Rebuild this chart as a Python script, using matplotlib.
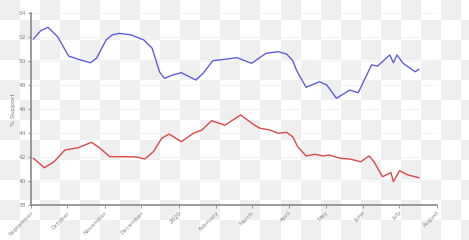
import matplotlib
matplotlib.use("Agg")
import matplotlib.pyplot as plt
import numpy as np
import pandas as pd

# poll averages
blue_dates = ["2019-09-03", "2019-09-09", "2019-09-15", "2019-09-23", "2019-10-02",
              "2019-10-10", "2019-10-20", "2019-10-25", "2019-11-02", "2019-11-07",
              "2019-11-13", "2019-11-23", "2019-12-03", "2019-12-10", "2019-12-16",
              "2019-12-20", "2019-12-27", "2020-01-03", "2020-01-15", "2020-01-21",
              "2020-01-29", "2020-02-08", "2020-02-18", "2020-03-01", "2020-03-13",
              "2020-03-23", "2020-03-30", "2020-04-04", "2020-04-07", "2020-04-15",
              "2020-04-26", "2020-05-02", "2020-05-10", "2020-05-21", "2020-05-28",
              "2020-06-08", "2020-06-13", "2020-06-23", "2020-06-26", "2020-06-29",
              "2020-07-04", "2020-07-14", "2020-07-17"]
blue_values = [51.86, 52.55, 52.83, 52.05, 50.44,
               50.17, 49.88, 50.25, 51.78, 52.2,
               52.33, 52.19, 51.78, 51.08, 49.13,
               48.58, 48.86, 49.05, 48.44, 49.0,
               50.05, 50.17, 50.3, 49.83, 50.67,
               50.8, 50.6, 50.05, 49.27, 47.83,
               48.3, 48.03, 46.92, 47.6, 47.38,
               49.7, 49.6, 50.53, 49.88, 50.53,
               49.83, 49.13, 49.33]

red_dates = ["2019-09-03", "2019-09-12", "2019-09-20", "2019-09-29", "2019-10-10",
             "2019-10-21", "2019-10-28", "2019-11-05", "2019-11-18", "2019-11-27",
             "2019-12-04", "2019-12-11", "2019-12-18", "2019-12-24", "2020-01-03",
             "2020-01-13", "2020-01-20", "2020-01-28", "2020-02-08", "2020-02-21",
             "2020-03-03", "2020-03-08", "2020-03-16", "2020-03-23", "2020-03-30",
             "2020-04-04", "2020-04-08", "2020-04-15", "2020-04-22", "2020-04-29",
             "2020-05-04", "2020-05-13", "2020-05-21", "2020-05-30", "2020-06-06",
             "2020-06-10", "2020-06-17", "2020-06-24", "2020-06-26", "2020-07-01",
             "2020-07-08", "2020-07-17"]
red_values = [41.92, 41.13, 41.63, 42.61, 42.8,
              43.25, 42.75, 42.05, 42.05, 42.03,
              41.86, 42.47, 43.6, 43.94, 43.3,
              44.0, 44.27, 45.05, 44.67, 45.53,
              44.7, 44.42, 44.28, 44.0, 44.08,
              43.7, 42.89, 42.11, 42.25, 42.11,
              42.19, 41.92, 41.86, 41.63, 42.11,
              41.63, 40.38, 40.72, 39.97, 40.88,
              40.53, 40.3]

month_ticks = pd.date_range("2019-09-01", "2020-08-01", freq="MS")
month_labels = ["September", "October", "November", "December", "2020", "February",
                "March", "April", "May", "June", "July", "August"]
y_ticks = [38, 40, 42, 44, 46, 48, 50, 52, 54]

fig = plt.figure(figsize=(4.69, 2.40), dpi=100)

# transparent-background checkerboard behind everything
bg = fig.add_axes([0, 0, 1, 1], zorder=-10)
cells = (np.add.outer(np.arange(12), np.arange(24)) % 2)
bg.imshow(cells, cmap=matplotlib.colors.ListedColormap(["#efefef", "#ffffff"]),
          extent=(0, 480, 240, 0), interpolation="nearest", aspect="auto")
bg.set_xlim(0, 469)
bg.set_ylim(240, 0)
bg.axis("off")

ax = fig.add_axes([0.0661, 0.1446, 0.8657, 0.80])
ax.patch.set_alpha(0)

ax.plot(pd.to_datetime(blue_dates), blue_values, color="#5f5fdc", lw=1.0,
        solid_joinstyle="round")
ax.plot(pd.to_datetime(red_dates), red_values, color="#d94a4a", lw=1.0,
        solid_joinstyle="round")

ax.set_xlim(pd.Timestamp("2019-09-01"), pd.Timestamp("2020-08-01"))
ax.set_ylim(38, 54)
ax.set_yticks(y_ticks)
ax.set_yticklabels([str(t) for t in y_ticks])
ax.set_xticks(month_ticks)
ax.set_xticklabels(month_labels, rotation=45, ha="right", rotation_mode="anchor")

ax.grid(axis="y", color="#f2f2f2", lw=0.8)
ax.set_axisbelow(True)
for s in ["top", "right"]:
    ax.spines[s].set_visible(False)
for s in ["left", "bottom"]:
    ax.spines[s].set_color("#8a8a8a")
    ax.spines[s].set_linewidth(1.2)
ax.tick_params(colors="#8a8a8a", labelsize=4.2, length=2, width=0.6, pad=1.5)
ax.set_ylabel("% Support", fontsize=4.5, color="#777777", labelpad=2)

fig.savefig("out.png", dpi=100)
